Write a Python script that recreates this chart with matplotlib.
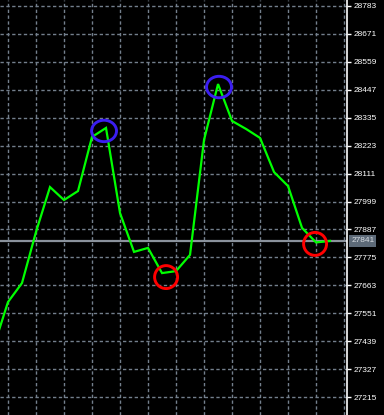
import numpy as np
import matplotlib
matplotlib.use("Agg")
import matplotlib.pyplot as plt
from matplotlib.patches import Ellipse

# close prices per bar (bar 0 sits just left of the visible area)
prices = [27420, 27596, 27672, 27877, 28057, 28005, 28041, 28258, 28294,
          27953, 27797, 27813, 27712, 27720, 27785, 28246, 28470, 28322,
          28290, 28254, 28117, 28061, 27893, 27835, 27841]
price_ticks = [28783, 28671, 28559, 28447, 28335, 28223, 28111, 27999,
               27887, 27775, 27663, 27551, 27439, 27327, 27215]
current_price = 27841
# marked highs (blue) and lows (red): (bar, price)
highs = [(7.86, 28282), (16.07, 28458)]
lows = [(12.29, 27696), (22.93, 27829)]

W, H = 384, 415
fig = plt.figure(figsize=(W / 100, H / 100), dpi=100, facecolor="black")
ax = fig.add_axes([0, 0, 347 / W, 1], facecolor="black")

x = np.arange(len(prices))
ax.set_xlim(0.43, 25.21)
ax.set_ylim(27143, 28807)

grid_kw = dict(color="#737f8c", lw=1.0, ls=(0, (2.4, 1.8)), zorder=1)
for gx in range(1, 26, 2):
    ax.axvline(gx, **grid_kw)
for gy in price_ticks:
    ax.axhline(gy, **grid_kw)

ax.axhline(current_price, color="#8a929c", lw=1.6, zorder=2)
ax.plot(x, prices, color="#00ff00", lw=1.6, zorder=3, solid_joinstyle="miter")

for cx, cy in highs:
    ax.add_patch(Ellipse((cx, cy), 1.78, 86, fill=False, ec="#3b1ef0", lw=2.1, zorder=4))
for cx, cy in lows:
    ax.add_patch(Ellipse((cx, cy), 1.64, 92, fill=False, ec="#ff0000", lw=2.1, zorder=4))

ax.set_xticks([])
ax.yaxis.tick_right()
ax.set_yticks(price_ticks)
ax.set_yticklabels([str(p) for p in price_ticks])
ax.tick_params(axis="y", colors="white", length=3, width=1, pad=1.5,
               labelsize=6, labelfontfamily="Liberation Sans")
for s in ["top", "left", "bottom"]:
    ax.spines[s].set_visible(False)
ax.spines["right"].set_color("white")
ax.spines["right"].set_linewidth(1.2)

ax.text(1.012, current_price, str(current_price), transform=ax.get_yaxis_transform(),
        ha="left", va="center", fontsize=6, family="Liberation Sans", color="#d8dde2",
        bbox=dict(boxstyle="square,pad=0.25", fc="#5d6a78", ec="none"), zorder=5)

fig.savefig("out.png", dpi=100, facecolor="black")
